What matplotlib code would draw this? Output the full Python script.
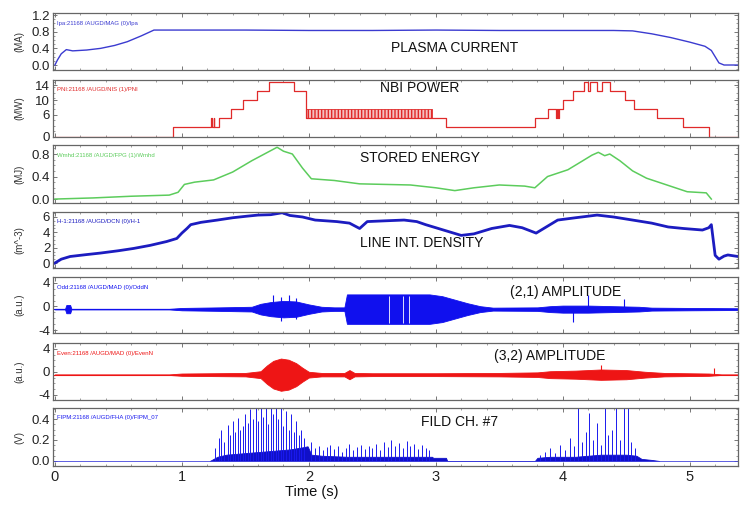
import matplotlib
matplotlib.use('Agg')
import matplotlib.pyplot as plt
import numpy as np
from matplotlib.ticker import AutoMinorLocator, FixedLocator, FixedFormatter

plt.rcParams['font.family'] = ['Liberation Sans', 'DejaVu Sans']

# ---------------- data ----------------
ip_t = [0, 0.02, 0.05, 0.09, 0.14, 0.25, 0.36, 0.47, 0.57, 0.68, 0.78, 1.5, 2.0, 2.5,
        3.0, 3.5, 4.0, 4.4, 4.55, 4.7, 4.85, 5.0, 5.12, 5.17, 5.2, 5.23, 5.27, 5.38]
ip = [0, 0.12, 0.27, 0.37, 0.34, 0.36, 0.40, 0.47, 0.56, 0.70, 0.84, 0.84, 0.83, 0.83,
      0.84, 0.83, 0.83, 0.83, 0.82, 0.75, 0.66, 0.55, 0.45, 0.35, 0.2, 0.05, 0.0, 0.0]

nbi_t = [0, 0.93, 1.23, 1.235, 1.25, 1.255, 1.29, 1.39, 1.48, 1.59, 1.69, 1.88, 1.98,
         2.97, 3.08, 3.78, 3.88, 3.95, 3.955, 3.965, 3.97, 4.0, 4.08, 4.17, 4.20, 4.215,
         4.27, 4.31, 4.37, 4.49, 4.56, 4.74, 4.95, 5.15, 5.38]
nbi = [0, 2.5, 5, 2.5, 5, 2.5, 5, 7.5, 10, 12.5, 15, 12.5, 5,
       5, 2.5, 5, 7.5, 5, 7.5, 5, 7.5, 10, 12.5, 15, 12.5, 15,
       12.5, 15, 12.5, 10, 7.5, 5, 2.5, 0, 0]
nbi_mod_t = [1.98, 2.97]
nbi_mod_lo = [5, 5]
nbi_mod_hi = [7.5, 7.5]

w_t = [0, 0.3, 0.6, 0.9, 0.97, 1.02, 1.1, 1.25, 1.4, 1.55, 1.65, 1.75, 1.8, 1.87, 1.95,
       2.02, 2.2, 2.4, 2.6, 2.8, 3.0, 3.15, 3.3, 3.5, 3.7, 3.78, 3.88, 4.04, 4.15, 4.23,
       4.28, 4.33, 4.37, 4.45, 4.55, 4.66, 4.82, 4.98, 5.13, 5.17]
w = [0.0, 0.02, 0.05, 0.07, 0.12, 0.26, 0.30, 0.34, 0.48, 0.68, 0.80, 0.92, 0.85, 0.80,
     0.55, 0.36, 0.33, 0.27, 0.26, 0.25, 0.20, 0.15, 0.20, 0.25, 0.23, 0.20, 0.40, 0.52,
     0.67, 0.78, 0.83, 0.77, 0.80, 0.68, 0.50, 0.37, 0.25, 0.13, 0.11, 0.0]

dens_t = [0, 0.05, 0.12, 0.25, 0.36, 0.5, 0.62, 0.75, 0.88, 0.96, 1.0, 1.04, 1.07, 1.15,
          1.28, 1.4, 1.51, 1.6, 1.7, 1.79, 1.85, 1.95, 2.05, 2.22, 2.32, 2.4, 2.46, 2.6,
          2.75, 2.85, 2.92, 2.99, 3.1, 3.2, 3.3, 3.44, 3.58, 3.68, 3.79, 3.88, 3.96, 4.1,
          4.27, 4.4, 4.55, 4.7, 4.83, 4.95, 5.1, 5.15, 5.17, 5.2, 5.23, 5.27, 5.3, 5.38]
dens = [0.0, 0.5, 0.85, 1.1, 1.3, 1.6, 1.9, 2.3, 2.8, 3.2, 3.9, 4.5, 5.0, 5.3,
        5.6, 5.9, 6.1, 6.25, 6.3, 6.55, 6.2, 6.0, 5.6, 5.4, 5.2, 4.5, 5.4, 5.5,
        5.6, 5.4, 5.0, 4.65, 4.1, 3.6, 3.8, 4.5, 4.9, 4.6, 3.9, 4.8, 5.6, 5.9,
        6.25, 6.0, 5.6, 5.2, 4.7, 4.5, 4.3, 4.6, 5.0, 1.0, 0.5, 0.9, 1.05, 0.85]

odd_base = -0.45
odd_t = [0, 0.08, 0.09, 0.12, 0.13, 0.9, 1.0, 1.3, 1.55, 1.62, 1.7, 1.8, 1.9, 2.0, 2.1,
         2.2, 2.28, 2.30, 2.95, 3.05, 3.15, 3.25, 3.35, 3.45, 3.8, 3.9, 4.0, 4.2, 4.4,
         4.6, 4.7, 5.0, 5.38]
odd_amp = [0.05, 0.05, 0.7, 0.7, 0.05, 0.05, 0.2, 0.3, 0.4, 0.9, 1.2, 1.4, 1.3, 0.8, 0.4,
           0.3, 0.3, 2.5, 2.5, 2.2, 1.6, 1.0, 0.5, 0.25, 0.3, 0.5, 0.6, 0.6, 0.5,
           0.4, 0.25, 0.2, 0.15]
odd_spk_t = [1.72, 1.78, 1.84, 1.90, 4.08, 4.20, 4.48]
odd_spk_lo = [-1.5, -2.4, -1.8, -2.2, -2.6, -0.5, -0.5]
odd_spk_hi = [1.9, 1.6, 2.0, 1.4, -0.4, 1.9, 1.2]
odd_gap_t = [2.63, 2.74, 2.79]

even_base = -0.5
even_t = [0, 0.9, 1.0, 1.5, 1.62, 1.67, 1.72, 1.78, 1.84, 1.90, 1.95, 2.0, 2.1, 2.28,
          2.32, 2.36, 2.5, 3.0, 3.5, 3.8, 3.9, 4.1, 4.3, 4.5, 4.65, 4.8, 5.15, 5.25, 5.38]
even_amp = [0.05, 0.05, 0.2, 0.3, 0.6, 1.6, 2.4, 2.8, 2.6, 2.0, 1.2, 0.5, 0.3, 0.3,
            0.8, 0.3, 0.25, 0.25, 0.3, 0.4, 0.6, 0.7, 0.9, 0.8, 0.5, 0.3, 0.2, 0.05, 0.05]
even_spk_t = [4.30, 5.19]
even_spk_hi = [1.6, 1.1]

fild_base_t = [1.22, 1.28, 1.35, 1.45, 1.55, 1.65, 1.75, 1.85, 1.95, 1.99, 2.02, 2.1, 2.3,
               2.5, 2.7, 2.9, 2.97, 2.98, 3.08, 3.09, 3.78, 3.8, 3.9, 4.0, 4.1, 4.2, 4.3,
               4.4, 4.5, 4.58, 4.62, 4.7, 4.76]
fild_base = [0.0, 0.04, 0.06, 0.07, 0.08, 0.09, 0.10, 0.11, 0.13, 0.14, 0.06, 0.05, 0.04,
             0.04, 0.04, 0.04, 0.04, 0.03, 0.03, 0.0, 0.0, 0.03, 0.04, 0.04, 0.04, 0.05,
             0.06, 0.06, 0.06, 0.05, 0.02, 0.01, 0.0]
fild_spk_t = [1.26, 1.29, 1.31, 1.33, 1.36, 1.38, 1.40, 1.42, 1.44, 1.46, 1.48, 1.50,
              1.52, 1.54, 1.56, 1.58, 1.60, 1.62, 1.64, 1.66, 1.68, 1.70, 1.72, 1.74,
              1.76, 1.78, 1.80, 1.82, 1.84, 1.86, 1.88, 1.90, 1.92, 1.94, 1.96,
              2.02, 2.05, 2.08, 2.11, 2.14, 2.17, 2.20, 2.23, 2.26, 2.29, 2.32, 2.35,
              2.38, 2.41, 2.44, 2.47, 2.50, 2.53, 2.56, 2.59, 2.62, 2.65, 2.68, 2.71,
              2.74, 2.77, 2.80, 2.83, 2.86, 2.89, 2.92, 2.95,
              3.82, 3.86, 3.90, 3.94, 3.98, 4.02, 4.06, 4.09, 4.12, 4.15, 4.18, 4.21,
              4.24, 4.27, 4.30, 4.33, 4.36, 4.39, 4.42, 4.45, 4.48, 4.51, 4.54, 4.57]
fild_spk = [0.12, 0.22, 0.30, 0.18, 0.34, 0.25, 0.38, 0.28, 0.41, 0.30, 0.33, 0.45,
            0.36, 0.50, 0.40, 0.55, 0.38, 0.55, 0.42, 0.55, 0.35, 0.55, 0.45, 0.55,
            0.40, 0.55, 0.33, 0.48, 0.30, 0.45, 0.28, 0.38, 0.25, 0.30, 0.22,
            0.18, 0.12, 0.14, 0.10, 0.13, 0.15, 0.11, 0.14, 0.09, 0.12, 0.16, 0.10,
            0.13, 0.15, 0.11, 0.14, 0.12, 0.16, 0.10, 0.18, 0.13, 0.20, 0.14, 0.17,
            0.12, 0.19, 0.14, 0.16, 0.11, 0.15, 0.12, 0.10,
            0.06, 0.09, 0.12, 0.08, 0.15, 0.10, 0.22, 0.14, 0.55, 0.18, 0.28, 0.46,
            0.20, 0.36, 0.15, 0.55, 0.25, 0.30, 0.55, 0.20, 0.55, 0.55, 0.18, 0.12]

titles = ["PLASMA CURRENT", "NBI POWER", "STORED ENERGY", "LINE INT. DENSITY",
          "(2,1) AMPLITUDE", "(3,2) AMPLITUDE", "FILD CH. #7"]
units = ["(MA)", "(MW)", "(MJ)", "(m^-3)", "(a.u.)", "(a.u.)", "(V)"]
sources = ["Ipa:21168 /AUGD/MAG (0)/Ipa", "PNI:21168 /AUGD/NIS (1)/PNI",
           "Wmhd:21168 /AUGD/FPG (1)/Wmhd", "H-1:21168 /AUGD/DCN (0)/H-1",
           "Odd:21168 /AUGD/MAD (0)/OddN", "Even:21168 /AUGD/MAD (0)/EvenN",
           "FIPM:21168 /AUGD/FHA (0)/FIPM_07"]
yticks = [[0.0, 0.4, 0.8, 1.2], [0, 6, 10, 14], [0.0, 0.4, 0.8], [0, 2, 4, 6],
          [-4, 0, 4], [-4, 0, 4], [0.0, 0.2, 0.4]]
yticklabels = [["0.0", "0.4", "0.8", "1.2"], ["0", "6", "10", "14"], ["0.0", "0.4", "0.8"],
               ["0", "2", "4", "6"], ["-4", "0", "4"], ["-4", "0", "4"], ["0.0", "0.2", "0.4"]]
ylims = [(-0.12, 1.25), (-0.1, 15.5), (-0.07, 0.96), (-0.65, 6.65), (-4.5, 5.0),
         (-4.9, 5.0), (-0.048, 0.505)]
xticks = [0, 1, 2, 3, 4, 5]

# ---------------- layout ----------------
W, H = 741, 505
fig = plt.figure(figsize=(W / 100, H / 100), dpi=100)
panels = [(13, 70), (80, 137), (145, 203), (212, 268), (277, 333), (343, 400), (408, 466)]
title_pos = [(455, 48), (420, 88), (420, 158), (422, 243), (566, 292), (550, 356), (460, 422)]
colors = ['#3b3bd0', '#e02a2a', '#5ccc5c', '#1c1cc0', '#1010ee', '#ee1515', '#1a1aee']

axes = []
for i, (top, bot) in enumerate(panels):
    ax = fig.add_axes([53 / W, 1 - bot / H, 685 / W, (bot - top) / H])
    ax.set_xlim(-0.015, 5.38)
    ax.set_ylim(*ylims[i])
    ax.xaxis.set_major_locator(FixedLocator(xticks))
    ax.xaxis.set_minor_locator(AutoMinorLocator(5))
    ax.yaxis.set_major_locator(FixedLocator(yticks[i]))
    ax.yaxis.set_major_formatter(FixedFormatter(yticklabels[i]))
    ax.yaxis.set_minor_locator(AutoMinorLocator(4))
    ax.tick_params(which='both', direction='in', top=True, right=True, colors='#777777',
                   labelcolor='#222222', labelsize=9.5, pad=2)
    ax.tick_params(which='major', length=3, width=0.7)
    ax.tick_params(which='minor', length=1.6, width=0.5)
    for s in ax.spines.values():
        s.set_color('#666666')
        s.set_linewidth(0.9)
    if i < 6:
        ax.tick_params(labelbottom=False)
    else:
        ax.tick_params(axis='x', labelsize=10.5, pad=3)
    axes.append(ax)
    fig.text(title_pos[i][0] / W, 1 - title_pos[i][1] / H, titles[i], ha='center',
             va='center', fontsize=10, color='#111111')
    fig.text(57 / W, 1 - (top + 10) / H, sources[i], ha='left', va='center',
             fontsize=4.3, color=colors[i])
    fig.text(19 / W, 1 - ((top + bot) / 2) / H, units[i], rotation=90, ha='center',
             va='center', fontsize=7, color='#333333')

ax1, ax2, ax3, ax4, ax5, ax6, ax7 = axes

ax1.plot(ip_t, ip, color=colors[0], lw=1.0)

ax2.plot(nbi_t, nbi, color=colors[1], lw=0.9, drawstyle='steps-post')
ax2.fill_between(nbi_mod_t, nbi_mod_lo, nbi_mod_hi, facecolor='#f4c0c0', edgecolor=colors[1],
                 hatch='|||||', lw=0.6)

ax3.plot(w_t, w, color=colors[2], lw=1.1)

ax4.plot(dens_t, dens, color=colors[3], lw=2.0)

ob = np.array(odd_amp)
ax5.fill_between(odd_t, odd_base - ob, odd_base + ob, color=colors[4], lw=0.6)
ax5.axhline(odd_base, color=colors[4], lw=0.8)
ax5.vlines(odd_spk_t, odd_spk_lo, odd_spk_hi, color=colors[4], lw=0.8)
ax5.vlines(odd_gap_t, odd_base - 2.3, odd_base + 2.3, color='white', lw=0.6)

eb = np.array(even_amp)
ax6.fill_between(even_t, even_base - eb, even_base + eb, color=colors[5], lw=0.6)
ax6.axhline(even_base, color=colors[5], lw=0.8)
ax6.vlines(even_spk_t, even_base, even_base + np.array(even_spk_hi), color=colors[5], lw=0.8)

ax7.fill_between(fild_base_t, 0, fild_base, color='#1010c8', lw=0.6)
ax7.vlines(fild_spk_t, 0, fild_spk, color=colors[6], lw=0.7)
ax7.axhline(0, color='#4444dd', lw=0.6)

fig.text(312 / W, 1 - 492 / H, "Time (s)", ha='center', va='center', fontsize=10.5,
         color='#111111')

fig.savefig('out.png', dpi=100)
